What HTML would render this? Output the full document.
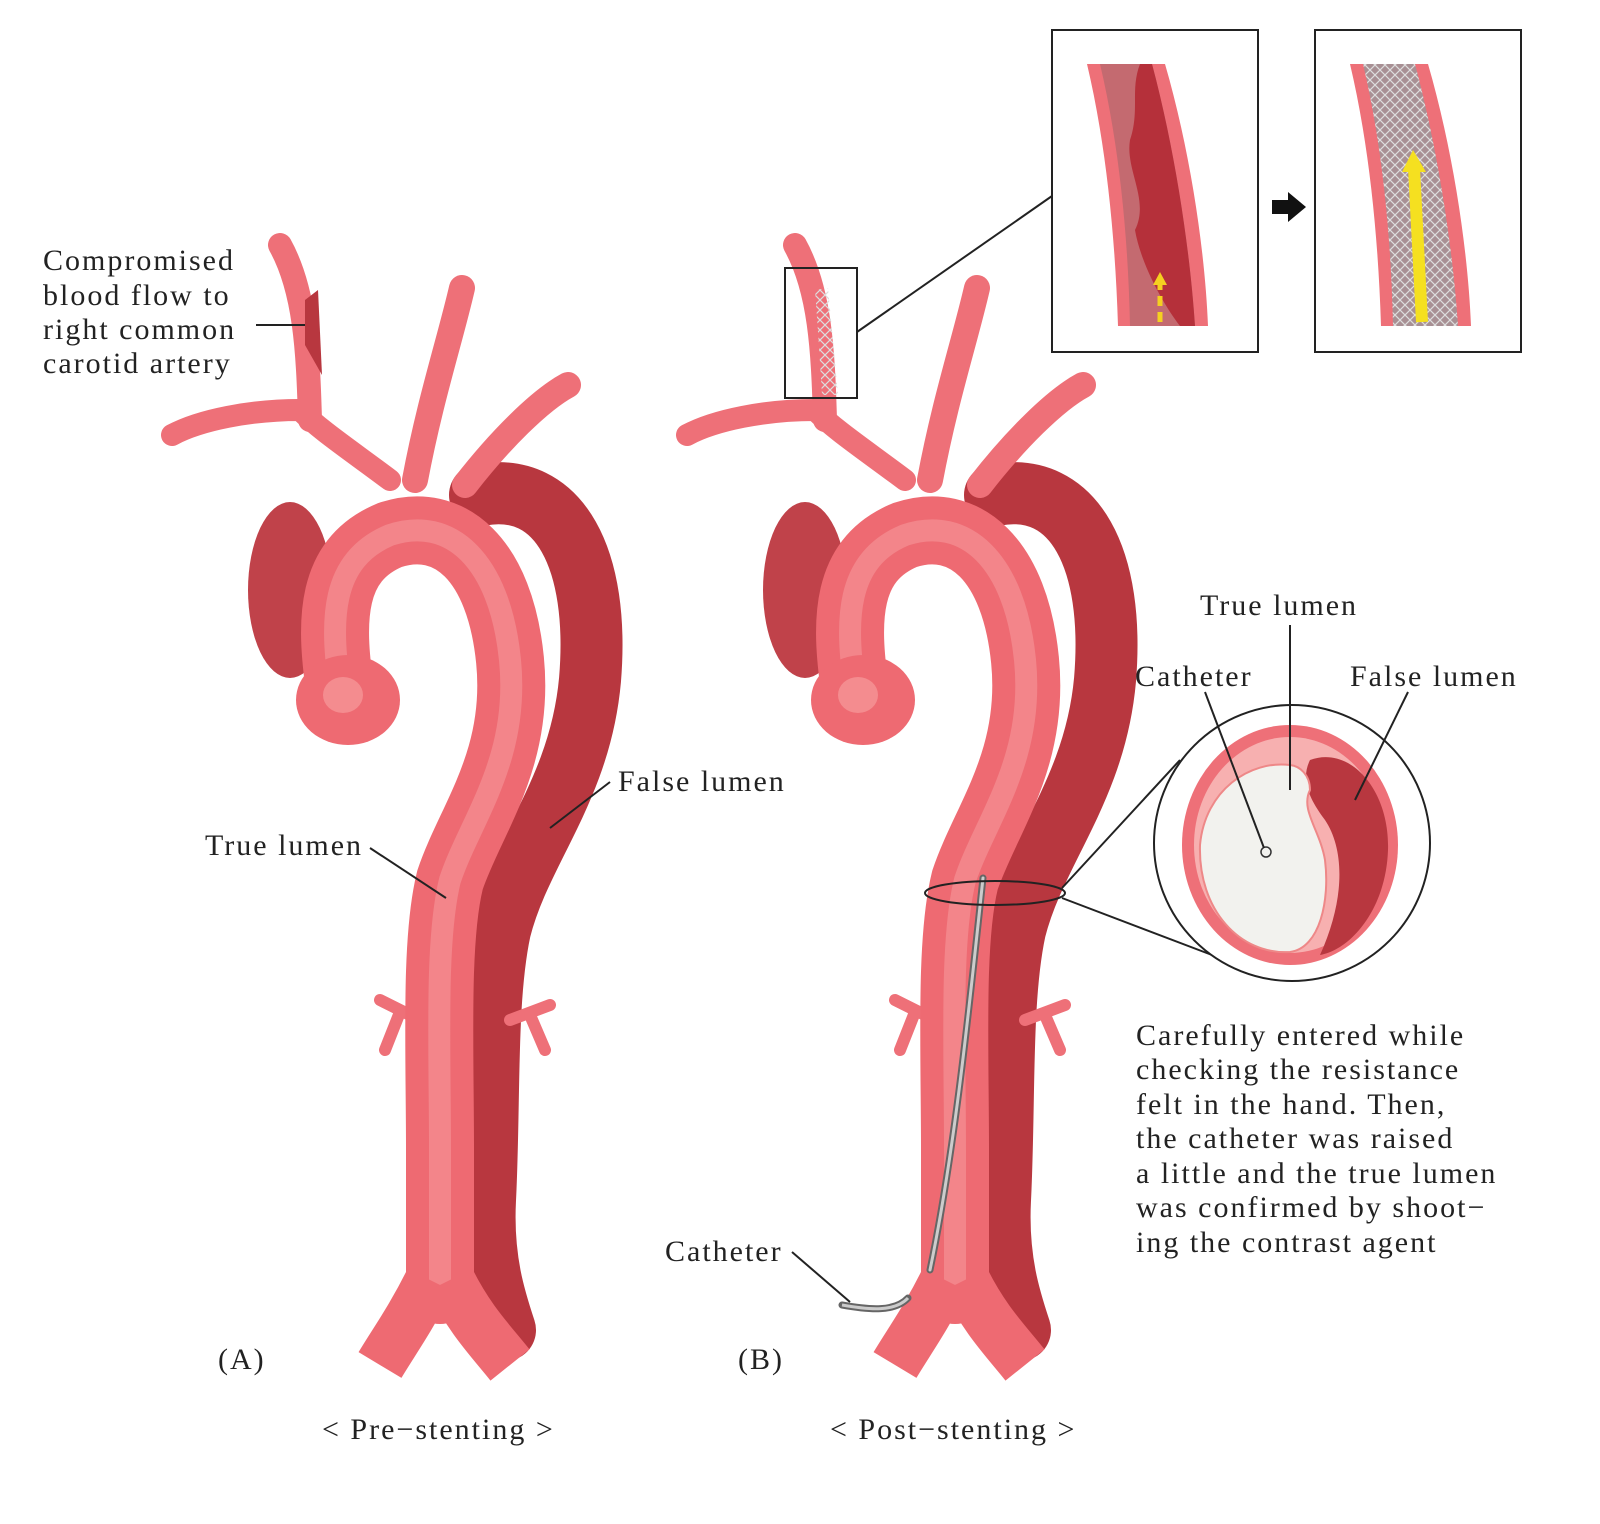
<!DOCTYPE html>
<html><head><meta charset="utf-8"><style>
html,body{margin:0;padding:0;background:#fff}
svg{display:block}
text{font-family:"Liberation Serif","Noto Serif CJK SC",serif;font-size:30px;letter-spacing:2px;fill:#222}
</style></head><body>
<svg width="1600" height="1524" viewBox="0 0 1600 1524" xmlns="http://www.w3.org/2000/svg">
<defs>
<pattern id="mesh" width="10" height="10" patternUnits="userSpaceOnUse">
<path d="M0,0 L10,10 M10,0 L0,10" stroke="#ddd" stroke-width="1.2"/>
</pattern>
<g id="aorta">
 <ellipse cx="290" cy="590" rx="42" ry="88" fill="#c0424a"/>
 <path d="M480,495 C560,480 600,560 590,680 C580,790 520,850 500,930 C485,1000 490,1100 485,1200 C482,1260 495,1300 505,1330" fill="none" stroke="#b8373f" stroke-width="62" stroke-linecap="round"/>
 <g fill="none" stroke="#ee7078" stroke-linecap="round">
  <path d="M390,480 C350,450 320,430 300,410 C250,410 200,420 172,435" stroke-width="22"/>
  <path d="M310,420 C308,350 305,290 280,245" stroke-width="24"/>
  <path d="M415,480 C430,400 450,340 462,288" stroke-width="26"/>
  <path d="M465,485 C500,440 540,400 568,385" stroke-width="26"/>
  <path d="M420,1020 L380,1000 M400,1012 L385,1050" stroke-width="12"/>
  <path d="M510,1020 L550,1005 M530,1015 L545,1050" stroke-width="12"/>
 </g>
 <path d="M340,690 C330,620 330,560 390,535 C450,515 500,560 510,660 C520,760 470,820 450,880 C435,940 440,1050 440,1150 C440,1220 440,1260 440,1290" fill="none" stroke="#ee6a72" stroke-width="68" stroke-linecap="round"/>
 <path d="M340,690 C330,620 330,560 390,535 C450,515 500,560 510,660 C520,760 470,820 450,880 C435,940 440,1050 440,1150 C440,1220 440,1260 440,1290" fill="none" stroke="#f8a0a2" stroke-width="22" stroke-linecap="round" opacity="0.5"/>
 <path d="M430,1280 C410,1320 395,1340 380,1365" fill="none" stroke="#ee6a72" stroke-width="50"/>
 <path d="M450,1280 C470,1320 490,1340 510,1365" fill="none" stroke="#ee6a72" stroke-width="50"/>
 <ellipse cx="348" cy="700" rx="52" ry="45" fill="#ee6a72"/>
 <ellipse cx="343" cy="695" rx="20" ry="18" fill="#f9a3a3" opacity="0.6"/>
</g>
</defs>

<use href="#aorta"/>
<use href="#aorta" transform="translate(515,0)"/>
<path d="M305,300 L318,290 L322,375 L305,345 Z" fill="#b8373f"/>
<path d="M815,290 L828,288 C832,330 835,360 838,395 L822,395 C820,360 818,330 815,290 Z" fill="url(#mesh)"/>

<text x="43" y="270">Compromised</text>
<text x="43" y="305">blood flow to</text>
<text x="43" y="339">right common</text>
<text x="43" y="373">carotid artery</text>
<line x1="256" y1="325" x2="305" y2="325" stroke="#222" stroke-width="2"/>
<text x="618" y="791">False lumen</text>
<line x1="610" y1="782" x2="550" y2="828" stroke="#222" stroke-width="2"/>
<text x="205" y="855">True lumen</text>
<line x1="370" y1="848" x2="446" y2="898" stroke="#222" stroke-width="2"/>
<text x="218" y="1369">(A)</text>
<text x="322" y="1439">&lt; Pre−stenting &gt;</text>

<rect x="785" y="268" width="72" height="130" fill="none" stroke="#222" stroke-width="2"/>
<line x1="857" y1="332" x2="1052" y2="196" stroke="#222" stroke-width="2"/>
<path d="M983,878 C970,1000 955,1150 930,1270" fill="none" stroke="#666" stroke-width="7" stroke-linecap="round"/>
<path d="M983,878 C970,1000 955,1150 930,1270" fill="none" stroke="#ccc" stroke-width="3" stroke-linecap="round"/>
<path d="M908,1298 C895,1312 870,1310 842,1305" fill="none" stroke="#666" stroke-width="7" stroke-linecap="round"/>
<path d="M908,1298 C895,1312 870,1310 842,1305" fill="none" stroke="#ccc" stroke-width="3"/>
<ellipse cx="995" cy="893" rx="70" ry="12" fill="none" stroke="#222" stroke-width="2"/>
<line x1="1062" y1="888" x2="1180" y2="760" stroke="#222" stroke-width="2"/>
<line x1="1062" y1="898" x2="1212" y2="955" stroke="#222" stroke-width="2"/>
<text x="665" y="1261">Catheter</text>
<line x1="792" y1="1252" x2="850" y2="1302" stroke="#222" stroke-width="2"/>
<text x="738" y="1369">(B)</text>
<text x="830" y="1439">&lt; Post−stenting &gt;</text>

<circle cx="1292" cy="843" r="138" fill="#fff" stroke="#222" stroke-width="2"/>
<ellipse cx="1290" cy="845" rx="108" ry="120" fill="#ee7078"/>
<ellipse cx="1290" cy="845" rx="96" ry="108" fill="#f7b0b0"/>
<path d="M1310,760 C1350,745 1390,790 1388,850 C1386,910 1350,950 1320,955 C1345,900 1345,850 1325,820 C1310,800 1300,780 1310,760 Z" fill="#b8373f"/>
<path d="M1290,765 C1250,760 1205,790 1200,845 C1198,910 1240,955 1290,952 C1320,948 1330,900 1325,860 C1320,830 1300,810 1310,790 C1310,775 1300,766 1290,765 Z" fill="#f2f2ee" stroke="#e88" stroke-width="2"/>
<circle cx="1266" cy="852" r="5" fill="none" stroke="#333" stroke-width="1.5"/>
<text x="1200" y="615">True lumen</text>
<line x1="1290" y1="625" x2="1290" y2="790" stroke="#222" stroke-width="2"/>
<text x="1135" y="686">Catheter</text>
<line x1="1205" y1="692" x2="1264" y2="848" stroke="#222" stroke-width="2"/>
<text x="1350" y="686">False lumen</text>
<line x1="1408" y1="692" x2="1355" y2="800" stroke="#222" stroke-width="2"/>
<g>
<text x="1136" y="1045">Carefully entered while</text>
<text x="1136" y="1079">checking the resistance</text>
<text x="1136" y="1114">felt in the hand. Then,</text>
<text x="1136" y="1148">the catheter was raised</text>
<text x="1136" y="1183">a little and the true lumen</text>
<text x="1136" y="1217">was confirmed by shoot−</text>
<text x="1136" y="1252">ing the contrast agent</text>
</g>

<rect x="1052" y="30" width="206" height="322" fill="#fff" stroke="#222" stroke-width="2"/>
<path d="M1087,64 L1165,64 C1190,150 1205,250 1208,326 L1118,326 C1115,230 1105,140 1087,64 Z" fill="#ee7078"/>
<path d="M1100,64 L1152,64 C1175,150 1190,250 1195,326 L1130,326 C1128,230 1118,140 1100,64 Z" fill="#c46a70"/>
<path d="M1140,64 L1152,64 C1175,150 1190,250 1195,326 L1180,326 C1160,300 1140,260 1135,230 C1150,200 1125,170 1130,140 C1140,110 1130,90 1140,64 Z" fill="#b5303a"/>
<line x1="1160" y1="322" x2="1160" y2="280" stroke="#f5d020" stroke-width="5" stroke-dasharray="10,6"/>
<path d="M1153,285 L1160,272 L1167,285 Z" fill="#f5d020"/>
<rect x="1315" y="30" width="206" height="322" fill="#fff" stroke="#222" stroke-width="2"/>
<path d="M1350,64 L1428,64 C1453,150 1468,250 1471,326 L1381,326 C1378,230 1368,140 1350,64 Z" fill="#ee7078"/>
<path d="M1363,64 L1415,64 C1438,150 1453,250 1458,326 L1393,326 C1391,230 1381,140 1363,64 Z" fill="#a89094"/>
<path d="M1363,64 L1415,64 C1438,150 1453,250 1458,326 L1393,326 C1391,230 1381,140 1363,64 Z" fill="url(#mesh)"/>
<line x1="1422" y1="322" x2="1414" y2="168" stroke="#f5e020" stroke-width="12"/>
<path d="M1402,172 L1413,150 L1426,172 Z" fill="#f5e020"/>
<path d="M1272,200 L1288,200 L1288,192 L1306,207 L1288,222 L1288,214 L1272,214 Z" fill="#111"/>
</svg>
</body></html>
